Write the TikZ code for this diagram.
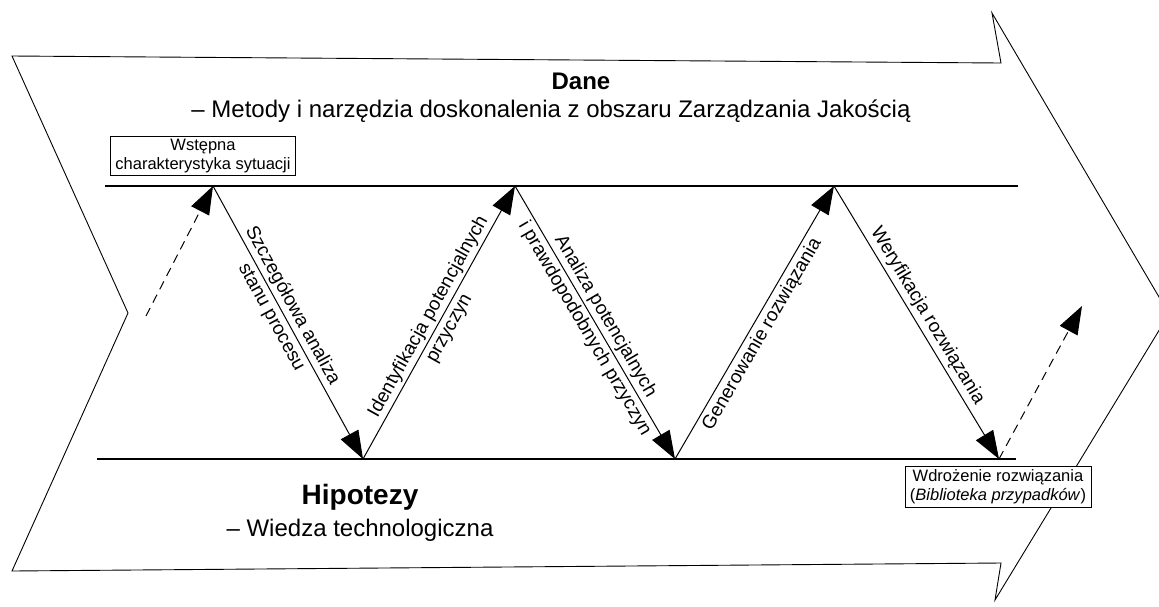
\documentclass[tikz,border=0pt]{standalone}
\usepackage{fontspec}
\setmainfont{Liberation Sans}
\usetikzlibrary{arrows.meta}

\begin{document}
\begin{tikzpicture}[x=1pt, y=-1pt,
    flow/.style={line width=1pt, -{Triangle[length=28pt, width=20pt]}},
    hint/.style={flow, dash pattern=on 9pt off 6pt},
    rail/.style={line width=2.6pt},
    lbl/.style={sloped, midway, align=center, font=\fontsize{19}{24}\selectfont},
    tag/.style={draw, fill=white, line width=0.8pt, align=center, inner xsep=5pt, inner ysep=3pt,
        font=\fontsize{16.5}{19}\selectfont}]
    \clip (0,0) rectangle (1159,606);

    % Big chevron
    \draw[line width=0.9pt] (12,56) -- (1001,63) -- (992,13) -- (1169,314)
        -- (995,600) -- (1001,563) -- (12,571) -- (128,313) -- cycle;

    % Upper and lower rails
    \draw[rail] (105,186) -- (1018,186);
    \draw[rail] (97,459) -- (1016,459);

    % Turning points of the zigzag
    \coordinate (top1) at (213,186);
    \coordinate (bot1) at (363,459);
    \coordinate (top2) at (515,186);
    \coordinate (bot2) at (675,459);
    \coordinate (top3) at (834,186);
    \coordinate (bot3) at (999,459);
    \coordinate (start) at (146,316);
    \coordinate (finish) at (1082,306);

    % Headings
    \node[font=\fontsize{24}{28}\selectfont\bfseries] (dane) at (581,81) {Dane};
    \node[font=\fontsize{24}{28}\selectfont] (metody) at (551,111)
        {-- Metody i narzędzia doskonalenia z obszaru Zarządzania Jakością};
    \node[font=\fontsize{28}{32}\selectfont\bfseries] (hipotezy) at (360,497) {Hipotezy};
    \node[font=\fontsize{24}{28}\selectfont] (wiedza) at (360,530) {-- Wiedza technologiczna};

    % Steps
    \draw[hint] (start) -- (top1);
    \draw[flow] (top1) -- node[lbl, pos=0.46] {Szczegółowa analiza\\stanu procesu} (bot1);
    \draw[flow] (bot1) -- node[lbl] {Identyfikacja potencjalnych\\przyczyn} (top2);
    \draw[flow] (top2) -- node[lbl] {Analiza potencjalnych\\i prawdopodobnych przyczyn} (bot2);
    \draw[flow] (bot2) -- node[lbl, below, pos=0.48] {Generowanie rozwiązania} (top3);
    \draw[flow] (top3) -- node[lbl, above] {Weryfikacja rozwiązania} (bot3);
    \draw[hint] (bot3) -- (finish);

    % Boxes at both ends
    \node[tag] (wstep) at (203,156) {Wstępna\\charakterystyka sytuacji};
    \node[tag] (wdrozenie) at (998,487) {Wdrożenie rozwiązania\\(\textit{Biblioteka przypadków})};
\end{tikzpicture}
\end{document}
